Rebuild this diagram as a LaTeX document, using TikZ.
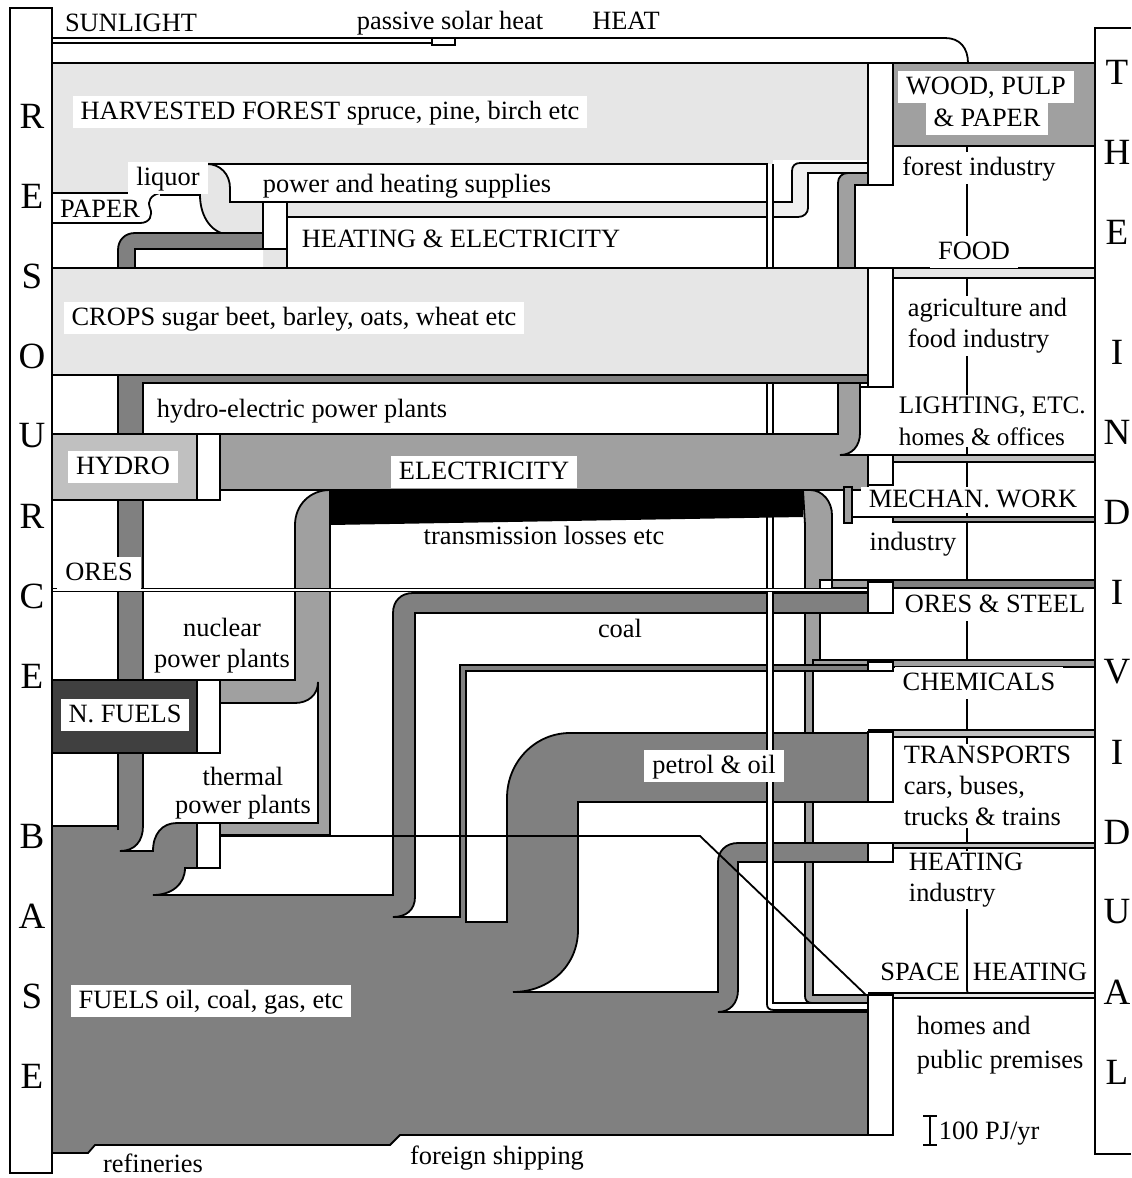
\documentclass[tikz,border=0pt]{standalone}
\usepackage{fontspec}
\setmainfont{Liberation Serif}
\usepackage{tikz}
\usetikzlibrary{positioning}
\definecolor{forestgray}{HTML}{E6E6E6}
\definecolor{palegray}{HTML}{F0F0F0}
\definecolor{hydrogray}{HTML}{C0C0C0}
\definecolor{elecgray}{HTML}{A0A0A0}
\definecolor{fuelgray}{HTML}{808080}
\definecolor{nucgray}{HTML}{404040}
\newcommand{\lblfont}{\fontsize{13.2}{15.5}\selectfont}
\newcommand{\sidefont}{\fontsize{18.5}{20}\selectfont}
\begin{document}
\begin{tikzpicture}[x=0.5pt, y=-0.5pt, line width=0.9pt,
  lbl/.style={fill=white, inner xsep=4pt, inner ysep=2pt, text height=9.5pt, text depth=2.5pt, font=\lblfont},
  txt/.style={inner sep=1pt, text height=9.5pt, text depth=2.5pt, font=\lblfont},
  multi/.style={fill=white, inner sep=1pt, align=left, font=\lblfont},
  side/.style={inner sep=0pt, font=\sidefont}]
\useasboundingbox (0,0) rectangle (1131,1178);

% electricity down to the consumers
\filldraw[fill=elecgray] (803,490) -- (810,490) .. controls (823,490) and (832,502) .. (832,515) -- (832,580) -- (820,580) -- (820,660) -- (813,660) -- (813,995) -- (868,995) -- (868,1003) -- (812,1003) .. controls (807,1003) and (805,1000) .. (805,996) -- (805,525) -- cycle;
\filldraw[fill=elecgray] (832,580) rectangle (868,588);
\filldraw[fill=elecgray] (813,660) rectangle (868,667);

% fuels with coal, chemicals, petrol and heating pipes
\filldraw[fill=fuelgray] (52,1153) -- (52,826) -- (143,826) .. controls (143,841) and (135,851) .. (120,851) -- (153,851) .. controls (153,834) and (162,823) .. (177,823) -- (197,823) -- (197,868) -- (185,868) .. controls (185,884) and (172,895) .. (153,895) -- (393,895) -- (393,613) .. controls (393,601) and (401,593) .. (413,593) -- (868,593) -- (868,613) -- (415,613) -- (415,897) .. controls (415,910) and (406,917) .. (393,917) -- (460,917) -- (460,665) -- (868,665) -- (868,671) -- (466,671) -- (466,922) -- (507,922) -- (507,798) .. controls (507,762) and (535,733) .. (570,733) -- (868,733) -- (868,802) -- (578,802) -- (578,930) .. controls (578,966) and (549,992) .. (513,992) -- (718,992) -- (718,862) .. controls (718,851) and (726,843) .. (738,843) -- (868,843) -- (868,862) -- (738,862) -- (738,990) .. controls (738,1003) and (730,1012) .. (718,1012) -- (868,1012) -- (868,1135) -- (400,1135) -- (390,1145) -- (95,1145) -- (88,1153) -- cycle;

% forest and sunlight
\fill[forestgray] (52,63) rectangle (868,268);
\fill[white] (773,160) rectangle (868,268);
\filldraw[fill=white] (52,63) -- (52,38) -- (945,38) .. controls (960,38) and (968,48) .. (968,63);
\draw (52,43) -- (432,43) (432,38) -- (432,45) -- (455,45) -- (455,38);
\draw (52,63) -- (1095,63);
\fill[white] (52,193) -- (200,193) .. controls (200,217) and (212,235) .. (232,235) -- (263,235) -- (263,268) -- (52,268) -- cycle;
\draw (52,193) -- (160,193) .. controls (151,195) and (147,201) .. (150,208) .. controls (153,215) and (150,223) .. (140,223) -- (52,223);
\draw (160,195) -- (200,195) .. controls (200,217) and (212,235) .. (232,235);
\filldraw[fill=white] (207,164) -- (767,164) -- (767,202) -- (230,202) -- (230,188) .. controls (230,174) and (220,164) .. (207,164) -- cycle;
\filldraw[fill=white] (287,217) rectangle (767,268);
\filldraw[fill=fuelgray] (118,268) -- (118,250) .. controls (118,240) and (125,233) .. (135,233) -- (263,233) -- (263,249) -- (135,249) -- (135,268);
\filldraw[fill=white] (263,202) rectangle (287,249);
\filldraw[fill=palegray] (767,202) -- (792,202) -- (792,171) .. controls (792,166) and (795,163) .. (800,163) -- (868,163) -- (868,173) -- (808,173) -- (808,208) .. controls (808,213) and (804,217) .. (798,217) -- (767,217);
\filldraw[fill=elecgray] (838,268) -- (838,183) .. controls (838,177) and (842,173) .. (848,173) -- (868,173) -- (868,185) -- (855,185) -- (855,268);
\filldraw[fill=white] (868,63) rectangle (893,185);
\filldraw[fill=elecgray] (893,63) rectangle (1095,146);

% thin supply pipe
\filldraw[fill=white] (767,164) -- (767,1004) .. controls (767,1008) and (769,1010) .. (774,1010) -- (868,1010) -- (868,1003) -- (773,1003) -- (773,164);

% crops
\fill[forestgray] (52,268) rectangle (868,375);
\draw (52,268) -- (1095,268);
\draw (52,375) -- (868,375);
\filldraw[fill=fuelgray] (118,830) -- (118,375) -- (868,375) -- (868,383) -- (143,383) -- (143,827);

% electricity
\filldraw[fill=elecgray] (220,434) -- (838,434) -- (838,383) -- (860,383) -- (860,433) .. controls (860,446) and (852,455) .. (840,455) -- (868,455) -- (868,490) -- (220,490) -- cycle;
\fill (330,490) -- (803,490) -- (803,517) -- (330,525) -- cycle;
\filldraw[fill=elecgray] (330,490) -- (330,835) -- (220,835) -- (220,823) -- (318,823) -- (318,682) .. controls (318,695) and (308,703) .. (295,703) -- (220,703) -- (220,680) -- (295,680) -- (295,525) .. controls (295,505) and (310,490) .. (330,490) -- cycle;

% sources
\filldraw[fill=hydrogray] (52,434) rectangle (197,500);
\filldraw[fill=white] (197,434) rectangle (220,500);
\filldraw[fill=nucgray] (52,680) rectangle (197,753);
\filldraw[fill=white] (197,680) rectangle (220,753);
\filldraw[fill=white] (197,823) rectangle (220,868);
\draw[double distance=1.2pt, line width=0.6pt] (52,590) -- (868,590);
\draw (220,836) -- (700,836) -- (866,995);

% consumers
\draw (967,146) -- (967,990) .. controls (967,994) and (970,995) .. (975,995);
\filldraw[fill=forestgray] (893,268) rectangle (1095,278);
\filldraw[fill=white] (868,268) rectangle (893,387);
\draw (860,387) -- (868,387);
\draw (840,455) -- (1095,455);
\filldraw[fill=hydrogray] (893,455) rectangle (1095,462);
\filldraw[fill=white] (868,455) rectangle (893,485);
\filldraw[fill=elecgray] (844,487) rectangle (852,523);
\draw (852,517) -- (1095,517);
\filldraw[fill=elecgray] (893,517) rectangle (1095,522);
\draw (832,580) -- (1095,580);
\filldraw[fill=fuelgray] (893,580) rectangle (1095,588);
\filldraw[fill=white] (868,582) rectangle (893,613);
\draw (820,660) -- (1095,660);
\filldraw[fill=elecgray] (893,660) rectangle (1095,667);
\filldraw[fill=white] (868,662) rectangle (893,671);
\draw (868,730) -- (1095,730);
\filldraw[fill=hydrogray] (893,730) rectangle (1095,737);
\filldraw[fill=white] (868,732) rectangle (893,802);
\draw (868,843) -- (1095,843);
\filldraw[fill=hydrogray] (893,843) rectangle (1095,848);
\filldraw[fill=white] (868,843) rectangle (893,862);
\draw (868,993) -- (1095,993);
\filldraw[fill=forestgray] (893,993) rectangle (1095,998);
\filldraw[fill=white] (868,995) rectangle (893,1135);

% bars
\filldraw[fill=white] (10,8) rectangle (52,1173);
\draw (1131,28) -- (1095,28) -- (1095,1154) -- (1131,1154);
\foreach \ch [count=\i from 0] in {R,E,S,O,U,R,C,E}
  \node[side] (res\i) at (32,{116+80*\i}) {\ch};
\foreach \ch [count=\i from 0] in {B,A,S,E}
  \node[side] (base\i) at (32,{836+80*\i}) {\ch};
\foreach \ch [count=\i from 0] in {T,H,E}
  \node[side] (the\i) at (1117,{72+80*\i}) {\ch};
\foreach \ch [count=\i from 0] in {I,N,D,I,V,I,D,U,A,L}
  \node[side] (ind\i) at (1117,{352+80*\i}) {\ch};

% labels
\node[txt] (sun) at (131,25) {SUNLIGHT};
\node[txt] (passive) at (450,22) {passive solar heat};
\node[txt] (heat) at (626,22) {HEAT};
\node[lbl] (forest) at (330,112) {HARVESTED FOREST spruce, pine, birch etc};
\node[lbl] (liquor) at (168,178) {liquor};
\node[txt] (paper) at (100,210) {PAPER};
\node[txt] (supplies) at (407,185) {power and heating supplies};
\node[txt] (heatel) at (461,240) {HEATING \& ELECTRICITY};
\node[lbl] (wood) at (986,87) {WOOD, PULP};
\node[lbl] (pulp) at (987,119) {\& PAPER};
\node[lbl] (forind) at (979,168) {forest industry};
\node[lbl] (food) at (974,252) {FOOD};
\node[lbl] (crops) at (294,318) {CROPS sugar beet, barley, oats, wheat etc};
\node[multi, anchor=west] (agri) at (905,326) {agriculture and\\food industry};
\node[txt] (hydroel) at (302,410) {hydro-electric power plants};
\node[multi, anchor=west, font=\fontsize{12.6}{16}\selectfont] (light) at (896,421) {LIGHTING, ETC.\\homes \& offices};
\node[lbl] (hydro) at (123,467) {HYDRO};
\node[lbl] (elec) at (484,472) {ELECTRICITY};
\node[lbl, inner ysep=0.5pt] (mech) at (973,500) {MECHAN. WORK};
\node[txt] (losses) at (544,537) {transmission losses etc};
\node[txt] (ind) at (913,543) {industry};
\node[lbl] (ores) at (99,573) {ORES};
\node[lbl] (steel) at (995,605) {ORES \& STEEL};
\node[txt] (coal) at (620,630) {coal};
\node[multi, align=center] (nuc) at (222,646) {nuclear\\power plants};
\node[lbl] (nfuel) at (125,715) {N. FUELS};
\node[lbl] (chem) at (979,683) {CHEMICALS};
\node[lbl] (petrol) at (714,766) {petrol \& oil};
\node[multi, anchor=west] (trans) at (901,786) {TRANSPORTS\\cars, buses,\\trucks \& trains};
\node[multi, align=center, font=\fontsize{13.2}{13.8}\selectfont] (therm) at (243,793) {thermal\\power plants};
\node[multi, anchor=west] (heatind) at (906,880) {HEATING\\industry};
\node[txt, anchor=east] (space) at (963,973) {SPACE};
\node[txt, anchor=west] (spaceheat) at (970,973) {HEATING};
\node[multi, anchor=west, font=\fontsize{13.2}{17}\selectfont] (homes) at (914,1045) {homes and\\public premises};
\draw (923,1116) -- (937,1116) (930,1116) -- (930,1145) (923,1145) -- (937,1145);
\node[txt, anchor=west] (scale) at (936,1132) {100 PJ/yr};
\node[lbl] (fuels) at (211,1001) {FUELS oil, coal, gas, etc};
\node[txt] (refin) at (153,1165) {refineries};
\node[txt] (ship) at (497,1157) {foreign shipping};
\end{tikzpicture}
\end{document}
